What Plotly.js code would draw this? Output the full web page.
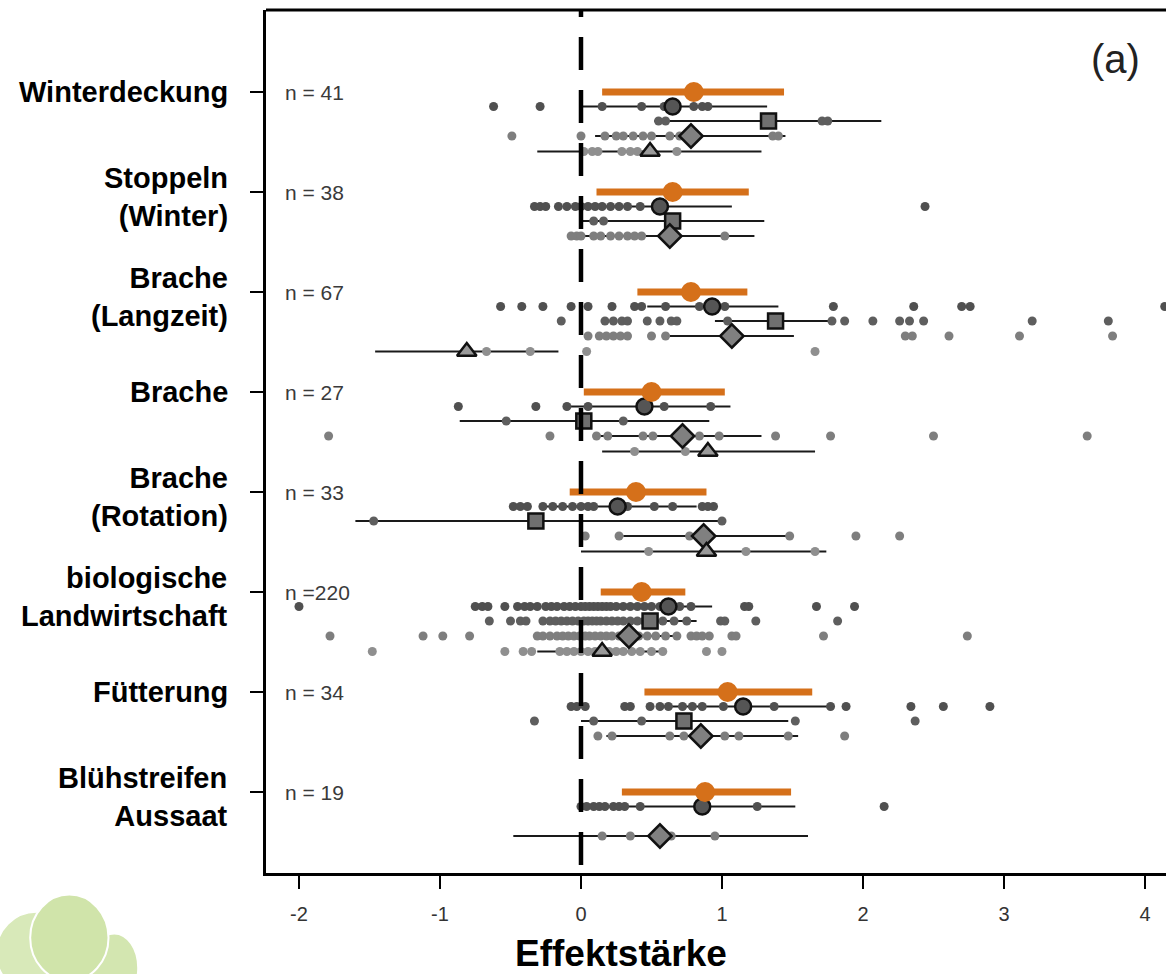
<!DOCTYPE html>
<html>
<head>
<meta charset="utf-8">
<script src="https://cdn.plot.ly/plotly-3.0.1.min.js"></script>
<style>
html,body{margin:0;padding:0;background:#fff;overflow:hidden;}
#chart{width:1166px;height:974px;}
</style>
</head>
<body>
<div id="chart"></div>
<script>
// ---------- DATA ----------
const categories = ['Winterdeckung','Stoppeln<br>(Winter)','Brache<br>(Langzeit)','Brache','Brache<br>(Rotation)','biologische<br>Landwirtschaft','Fütterung','Blühstreifen<br>Aussaat'];
const nLabels = ['n = 41','n = 38','n = 67','n = 27','n = 33','n =220','n = 34','n = 19'];
const xTicks = [-2,-1,0,1,2,3,4];
const panelLabel = '(a)';
const xTitle = 'Effektstärke';

// overall (orange) mean and CI
const overallMean = [0.80,0.65,0.78,0.50,0.39,0.43,1.04,0.88];
const overallLo   = [0.15,0.11,0.40,0.02,-0.08,0.14,0.45,0.29];
const overallHi   = [1.44,1.19,1.18,1.02,0.89,0.74,1.64,1.49];

// subgroup: circle
const circleMean = [0.65,0.56,0.93,0.45,0.26,0.62,1.15,0.86];
const circleLo   = [0.00,0.00,0.47,-0.11,-0.29,0.29,0.55,0.00];
const circleHi   = [1.32,1.07,1.40,1.06,0.82,0.93,1.77,1.52];
// subgroup: square
const squareMean = [1.33,0.65,1.38,0.02,-0.32,0.49,0.73,null];
const squareLo   = [0.52,0.00,0.95,-0.86,-1.60,0.16,0.00,null];
const squareHi   = [2.13,1.30,1.80,0.91,0.99,0.82,1.47,null];
// subgroup: diamond
const diamondMean = [0.78,0.63,1.07,0.72,0.87,0.34,0.85,0.56];
const diamondLo   = [0.10,0.00,0.63,0.09,0.30,0.00,0.18,-0.48];
const diamondHi   = [1.45,1.23,1.51,1.28,1.47,0.67,1.54,1.61];
// subgroup: triangle
const triangleMean = [0.49,null,-0.81,0.90,0.89,0.15,null,null];
const triangleLo   = [-0.31,null,-1.46,0.15,0.00,-0.31,null,null];
const triangleHi   = [1.28,null,-0.16,1.66,1.74,0.60,null,null];

// individual effect sizes per subgroup row
const circlePts = [
  [-0.62,-0.29,0.15,0.43,0.59,0.62,0.80,0.86,0.90],
  [-0.33,-0.29,-0.25,-0.16,-0.10,-0.04,0.00,0.05,0.10,0.15,0.21,0.27,0.33,0.42,2.44],
  [-0.57,-0.42,-0.27,-0.07,0.05,0.22,0.38,0.43,0.60,0.84,1.02,1.79,2.36,2.70,2.76,4.14],
  [-0.87,-0.32,-0.10,0.05,0.59,0.92],
  [-0.48,-0.43,-0.38,-0.27,-0.20,-0.13,-0.06,0.00,0.05,0.09,0.30,0.33,0.52,0.65,0.86,0.90,0.94],
  [-2.00,-0.75,-0.70,-0.66,-0.54,-0.45,-0.40,-0.36,-0.31,-0.25,-0.21,-0.17,-0.12,-0.08,-0.04,0.00,0.03,0.06,0.09,0.12,0.15,0.18,0.21,0.25,0.30,0.35,0.40,0.45,0.50,0.56,0.62,0.70,0.78,1.16,1.19,1.67,1.94],
  [-0.07,-0.03,0.03,0.31,0.35,0.49,0.56,0.62,0.72,0.79,0.86,1.01,1.37,1.77,1.88,2.34,2.57,2.90],
  [0.00,0.04,0.09,0.13,0.17,0.23,0.27,0.31,0.42,1.25,2.15]
];
const squarePts = [
  [0.55,0.60,1.71,1.75],
  [0.09,0.16],
  [-0.14,0.17,0.23,0.29,0.33,0.47,0.56,0.64,0.68,1.04,1.78,1.87,2.07,2.26,2.33,2.43,3.20,3.74],
  [-0.53,0.30],
  [-1.47,1.00],
  [-0.65,-0.50,-0.43,-0.39,-0.27,-0.22,-0.18,-0.14,-0.10,-0.06,-0.02,0.02,0.05,0.08,0.11,0.14,0.18,0.22,0.26,0.30,0.35,0.40,0.45,0.52,0.58,0.66,0.75,0.99,1.02,1.24,1.82],
  [-0.33,0.09,0.43,1.52,2.37],
  []
];
const diamondPts = [
  [-0.49,0.00,0.17,0.25,0.30,0.37,0.44,0.50,0.63,0.70,1.36,1.40],
  [-0.07,-0.03,0.00,0.09,0.14,0.21,0.27,0.33,0.38,0.43,1.02],
  [0.05,0.13,0.18,0.23,0.28,0.33,0.50,0.60,2.30,2.35,2.61,3.11,3.77],
  [-1.79,-0.22,0.11,0.19,0.44,0.51,0.84,0.98,1.38,1.77,2.50,3.59],
  [0.03,0.27,0.77,1.48,1.95,2.26],
  [-1.78,-1.12,-0.98,-0.79,-0.31,-0.27,-0.22,-0.17,-0.13,-0.09,-0.05,-0.01,0.03,0.06,0.10,0.14,0.18,0.22,0.27,0.31,0.36,0.41,0.47,0.53,0.60,0.68,0.78,0.82,0.86,0.91,1.07,1.10,1.72,2.74],
  [0.12,0.22,0.63,0.73,1.02,1.12,1.47,1.87],
  [0.15,0.35,0.64,0.95]
];
const trianglePts = [
  [0.02,0.08,0.12,0.29,0.35,0.40,0.68],
  [],
  [-0.67,-0.36,0.04,1.66],
  [0.38,0.74],
  [0.48,1.17,1.66],
  [-1.48,-0.54,-0.41,-0.35,-0.15,-0.10,-0.05,0.00,0.05,0.10,0.15,0.20,0.25,0.30,0.36,0.42,0.50,0.58,0.89,1.00],
  [],
  []
];

// ---------- STYLE ----------
const rowOffset = {overall:0, circle:0.145, square:0.29, diamond:0.44, triangle:0.595};
const ORANGE = '#d5701a';
const FONT = 'Liberation Sans, Arial, Helvetica, sans-serif';

function ciTrace(mean, lo, hi, off, color, width){
  const x=[], y=[];
  mean.forEach((m,i)=>{ if(m===null) return; x.push(lo[i],hi[i],null); y.push(i+off,i+off,null); });
  return {type:'scatter', mode:'lines', x:x, y:y, line:{color:color,width:width}, hoverinfo:'skip', showlegend:false};
}
function ptsTrace(pts, off, color){
  const x=[], y=[];
  pts.forEach((arr,i)=>arr.forEach(v=>{x.push(v); y.push(i+off);}));
  return {type:'scatter', mode:'markers', x:x, y:y, marker:{color:color,size:9,line:{width:0}}, showlegend:false, hoverinfo:'x'};
}
function meanTrace(mean, off, symbol, fill, size){
  const x=[], y=[];
  mean.forEach((m,i)=>{ if(m===null) return; x.push(m); y.push(i+off); });
  return {type:'scatter', mode:'markers', x:x, y:y, marker:{symbol:symbol,color:fill,size:size,line:{color:'#111',width:2.5}}, showlegend:false, hoverinfo:'x'};
}

const traces = [
  ciTrace(circleMean, circleLo, circleHi, rowOffset.circle, '#1a1a1a', 2.2),
  ciTrace(squareMean, squareLo, squareHi, rowOffset.square, '#1a1a1a', 2.2),
  ciTrace(diamondMean, diamondLo, diamondHi, rowOffset.diamond, '#1a1a1a', 2.2),
  ciTrace(triangleMean, triangleLo, triangleHi, rowOffset.triangle, '#1a1a1a', 2.2),
  ptsTrace(circlePts, rowOffset.circle, '#505050'),
  ptsTrace(squarePts, rowOffset.square, '#5e5e5e'),
  ptsTrace(diamondPts, rowOffset.diamond, '#7e7e7e'),
  ptsTrace(trianglePts, rowOffset.triangle, '#8f8f8f'),
  meanTrace(circleMean, rowOffset.circle, 'circle', '#555555', 16),
  meanTrace(squareMean, rowOffset.square, 'square', '#707070', 15),
  meanTrace(diamondMean, rowOffset.diamond, 'diamond', '#808080', 18),
  meanTrace(triangleMean, rowOffset.triangle, 'triangle-up', '#9a9a9a', 17),
  ciTrace(overallMean, overallLo, overallHi, rowOffset.overall, ORANGE, 7),
  {type:'scatter', mode:'markers', x:overallMean, y:overallMean.map((m,i)=>i), marker:{color:ORANGE,size:20,line:{width:0}}, showlegend:false, hoverinfo:'x'}
];

// annotations
const annotations = [];
categories.forEach((c,i)=>{
  const twoLine = c.indexOf('<br>')>=0;
  annotations.push({xref:'paper', yref:'y', x:-0.040, y:i+(twoLine?0.05:0), xanchor:'right', yanchor:'middle', align:'right', showarrow:false,
    text:'<b>'+c+'</b>', font:{family:FONT, size:29, color:'#000'}});
});
nLabels.forEach((t,i)=>{
  annotations.push({xref:'x', yref:'y', x:-2.115, y:i, xanchor:'left', yanchor:'middle', showarrow:false,
    text:t, font:{family:FONT, size:21, color:'#3a3a3a'}});
});
annotations.push({xref:'x', yref:'y', x:3.79, y:-0.33, xanchor:'center', yanchor:'middle', showarrow:false,
  text:panelLabel, font:{family:FONT, size:40, color:'#222'}});
annotations.push({xref:'paper', yref:'paper', x:0.3944, y:-0.093, xanchor:'center', yanchor:'middle', showarrow:false,
  text:'<b>'+xTitle+'</b>', font:{family:FONT, size:37, color:'#000'}});

const shapes = [
  // dashed zero line
  {type:'line', xref:'x', yref:'y', x0:0, x1:0, y0:-1.08, y1:7.95, line:{color:'#000', width:4.5, dash:'33px,20px'}},
  // top frame line
  {type:'line', xref:'paper', yref:'paper', x0:0, x1:1, y0:1, y1:1, line:{color:'#000', width:3}},
  // faint logo (bottom-left)
  {type:'circle', xref:'paper', yref:'paper', x0:-0.30, x1:-0.21, y0:-0.14, y1:-0.045, fillcolor:'#d8e9b9', line:{color:'#ffffff', width:2}, layer:'below'},
  {type:'circle', xref:'paper', yref:'paper', x0:-0.195, x1:-0.142, y0:-0.15, y1:-0.07, fillcolor:'#d3e6b0', line:{color:'#ffffff', width:2}, layer:'below'},
  {type:'circle', xref:'paper', yref:'paper', x0:-0.262, x1:-0.175, y0:-0.125, y1:-0.025, fillcolor:'#d0e4aa', line:{color:'#ffffff', width:2}, layer:'below'}
];

const layout = {
  width:1166, height:974,
  margin:{l:266, r:0, t:10, b:101, pad:0},
  paper_bgcolor:'#fff', plot_bgcolor:'#fff',
  showlegend:false,
  font:{family:FONT},
  xaxis:{range:[-2.234,4.149], tickvals:xTicks, ticktext:xTicks.map(String), ticks:'outside', ticklen:13, tickwidth:2.2, tickcolor:'#000',
    showline:true, linewidth:3, linecolor:'#000', showgrid:false, zeroline:false, ticklabelstandoff:8,
    tickfont:{family:FONT, size:20, color:'#333'}},
  yaxis:{range:[7.81,-0.82], tickvals:categories.map((c,i)=>i), showticklabels:false, ticks:'outside', ticklen:13, tickwidth:2.5, tickcolor:'#000',
    showline:true, linewidth:3, linecolor:'#000', showgrid:false, zeroline:false},
  annotations:annotations,
  shapes:shapes
};

Plotly.newPlot('chart', traces, layout, {staticPlot:true, displayModeBar:false});
</script>
</body>
</html>
